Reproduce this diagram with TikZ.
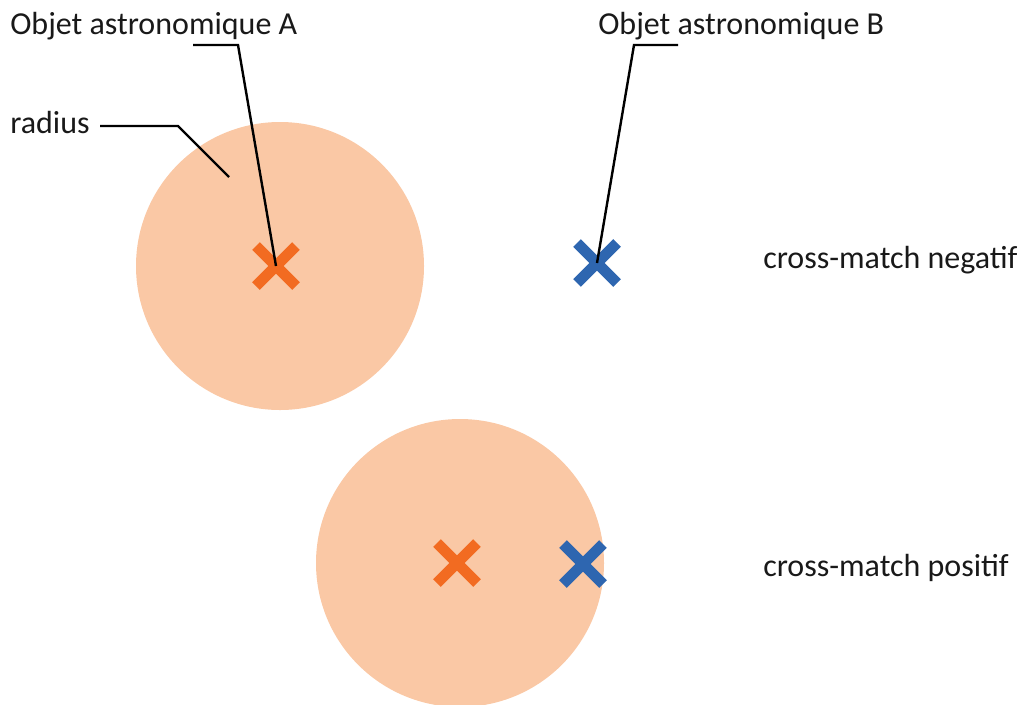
\documentclass[tikz,border=0pt]{standalone}
\usepackage{fontspec}
\setmainfont{Carlito}
\definecolor{peach}{HTML}{FAC8A5}
\definecolor{crossorange}{HTML}{F26B21}
\definecolor{crossblue}{HTML}{2E66B0}
\tikzset{
  disc/.style={fill=peach, draw=none},
  lbl/.style={anchor=base west, inner sep=0pt, font=\fontsize{24}{28}\selectfont, text=black!90},
  leader/.style={draw=black, line width=1.8pt},
  xmark/.style={line width=8pt, line cap=butt},
}
\newcommand{\xcross}[3]{%
  \coordinate (#1) at (#2);
  \draw[xmark, #3] ($(#1)+(-20,-20)$) -- ($(#1)+(20,20)$);
  \draw[xmark, #3] ($(#1)+(-20,20)$) -- ($(#1)+(20,-20)$);
}
\usetikzlibrary{calc}
\begin{document}
\begin{tikzpicture}[x=0.75pt, y=-0.75pt]
\useasboundingbox (0,0) rectangle (1020,704);
\begin{scope}
\clip (0,0) rectangle (1020,704);
\fill[disc] (280,266) circle[radius=144];
\fill[disc] (460,563) circle[radius=144];
\end{scope}
\xcross{A1}{276,266}{crossorange}
\xcross{B1}{597,263}{crossblue}
\xcross{A2}{457,563}{crossorange}
\xcross{B2}{583,564}{crossblue}

\node[lbl] (tA) at (10,34) {Objet astronomique A};
\node[lbl] (tB) at (598,34) {Objet astronomique B};
\node[lbl] (tR) at (10,133) {radius};
\node[lbl] (tN) at (763,268) {cross-match negatif};
\node[lbl] (tP) at (763,576) {cross-match positif};

\coordinate (kA) at (238,45);
\coordinate (sA) at (193,45);
\coordinate (kB) at (634,45);
\coordinate (sB) at (678,45);
\coordinate (sR) at (100,126);
\coordinate (kR) at (178,126);
\coordinate (eR) at (229,177);
\draw[leader] (sA) -- (kA) -- (A1);
\draw[leader] (sB) -- (kB) -- (B1);
\draw[leader] (sR) -- (kR) -- (eR);
\end{tikzpicture}
\end{document}
